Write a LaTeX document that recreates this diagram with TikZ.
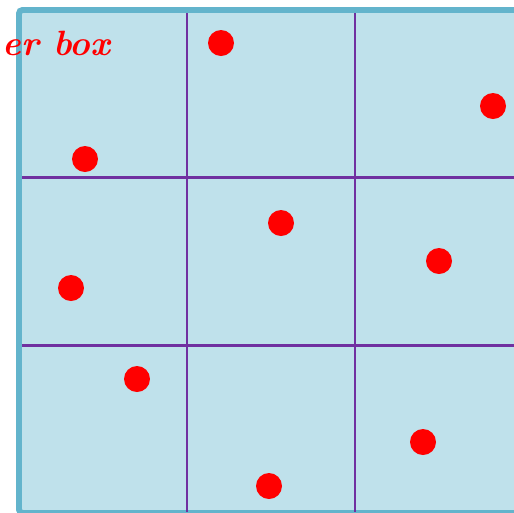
\documentclass[tikz,border=0pt]{standalone}
\usepackage{xcolor}
\usepackage{tikz}
\usetikzlibrary{positioning}
\definecolor{boxfill}{RGB}{191,225,235}
\definecolor{boxedge}{RGB}{99,180,204}
\definecolor{gridpurple}{RGB}{112,48,160}

\begin{document}
\begin{tikzpicture}[
  x=0.02cm, y=-0.02cm,
  outerbox/.style={draw=boxedge, fill=boxfill, line width=3.4pt, rounded corners=2pt},
  gridline/.style={draw=gridpurple, line width=1.7pt},
  dot/.style={circle, fill=red, inner sep=0pt, minimum size=0.52cm},
  lab/.style={text=red, inner sep=0pt, font=\fontsize{20}{20}\selectfont\bfseries\itshape}
]
\useasboundingbox (0,0) rectangle (514,512);
\draw[outerbox] (19,10) rectangle (523,513);
\foreach \g in {187,355} {
  \draw[gridline] (\g,13) -- (\g,512);
  \draw[gridline] (22,\g-10) -- (514,\g-10);
}
\foreach \n/\px/\py in {a/221/43, b/493/106, c/85/159, d/281/223, e/439/261,
                        f/71/288, g/137/379, h/423/442, i/269/486} {
  \node[dot] (dot\n) at (\px,\py) {};
}
\node[lab, anchor=base west] (title) at (2,55) {er box};
\end{tikzpicture}
\end{document}
